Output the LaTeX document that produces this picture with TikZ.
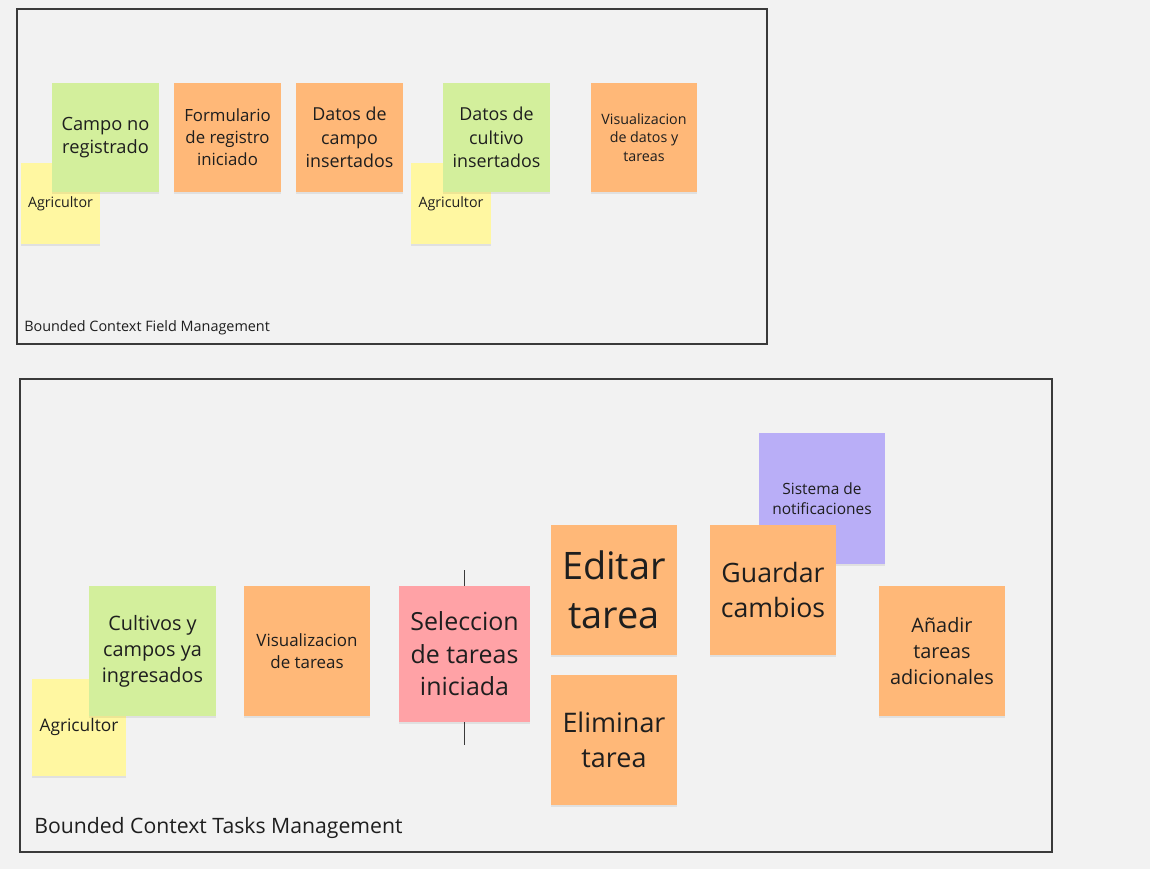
\documentclass[tikz,border=0pt]{standalone}
\usepackage{fontspec}
\setmainfont{Open Sans}
\usetikzlibrary{shadows}
\definecolor{bg}{HTML}{F2F2F2}
\definecolor{frame}{HTML}{3A3A3A}
\definecolor{txt}{HTML}{1E1E1E}
\definecolor{sy}{HTML}{FFF7A1}
\definecolor{sg}{HTML}{D3EF9C}
\definecolor{so}{HTML}{FFB878}
\definecolor{sr}{HTML}{FFA2A6}
\definecolor{sp}{HTML}{B9AEF7}
\newcommand{\fs}[2]{\fontsize{#1pt}{\dimexpr #1pt*#2/100\relax}\selectfont}
\tikzset{
  sticky/.style={rectangle, inner sep=0pt, align=center, text=txt,
    drop shadow={shadow xshift=0.3pt, shadow yshift=-1.5pt, opacity=0.07, fill=black}},
  yel/.style={sticky, fill=sy},
  gre/.style={sticky, fill=sg},
  ora/.style={sticky, fill=so},
  red/.style={sticky, fill=sr},
  pur/.style={sticky, fill=sp},
  ctxframe/.style={draw=frame, line width=0.8pt},
  ctxlabel/.style={anchor=west, inner sep=0pt, text=txt},
  pivot/.style={draw=frame, line width=0.75pt}
}
\begin{document}
\begin{tikzpicture}[x=0.75pt, y=-0.75pt]
\fill[bg] (0,0) rectangle (1150,869);
\useasboundingbox (0,0) rectangle (1150,869);
% frames
\draw[ctxframe] (17,9) rectangle (767,344);
\draw[ctxframe] (20,379) rectangle (1052,852);
\node[ctxlabel, font=\fs{10.8}{136}] (lab1) at (24,328) {Bounded Context Field Management};
\node[ctxlabel, font=\fs{15.9}{136}] (lab2) at (34,828) {Bounded Context Tasks Management};
% top context
\node[yel, minimum width=79*0.75pt, minimum height=81*0.75pt, font=\fs{10.7}{136}] (a1) at (60.5,203.5) {Agricultor};
\node[gre, minimum width=107*0.75pt, minimum height=109*0.75pt, font=\fs{13.7}{130}] (g1) at (105.5,137.5) {Campo no\\registrado};
\node[ora, minimum width=107*0.75pt, minimum height=109*0.75pt, font=\fs{12.6}{132}] (o1) at (227.5,137.5) {Formulario\\de registro\\iniciado};
\node[ora, minimum width=107*0.75pt, minimum height=109*0.75pt, font=\fs{13.4}{132}] (o2) at (349.5,137.5) {Datos de\\campo\\insertados};
\node[yel, minimum width=80*0.75pt, minimum height=81*0.75pt, font=\fs{10.7}{136}] (a2) at (451,203.5) {Agricultor};
\node[gre, minimum width=107*0.75pt, minimum height=109*0.75pt, font=\fs{13.4}{132}] (g2) at (496.5,137.5) {Datos de\\cultivo\\insertados};
\node[ora, minimum width=106*0.75pt, minimum height=109*0.75pt, font=\fs{10.7}{132}] (o3) at (644,137.5) {Visualizacion\\de datos y\\tareas};
% bottom context
\node[yel, minimum width=94*0.75pt, minimum height=97*0.75pt, font=\fs{13}{136}] (a3) at (79,727) {Agricultor};
\node[gre, minimum width=127*0.75pt, minimum height=130*0.75pt, font=\fs{14.9}{130}] (g3) at (152.5,651) {Cultivos y\\campos ya\\ingresados};
\node[ora, minimum width=126*0.75pt, minimum height=130*0.75pt, font=\fs{12.7}{132}] (o4) at (307,651) {Visualizacion\\de tareas};
\coordinate (pt) at (464,570);
\coordinate (pb) at (464,745);
\draw[pivot] (pt) -- (pb);
\node[red, minimum width=131*0.75pt, minimum height=136*0.75pt, font=\fs{18.7}{130}] (r1) at (464.5,654) {Seleccion\\de tareas\\iniciada};
\node[ora, minimum width=126*0.75pt, minimum height=130*0.75pt, font=\fs{28.4}{130}] (o5) at (614,590) {Editar\\tarea};
\node[ora, minimum width=126*0.75pt, minimum height=130*0.75pt, font=\fs{20.2}{130}] (o6) at (614,740) {Eliminar\\tarea};
\node[pur, minimum width=126*0.75pt, minimum height=131*0.75pt, font=\fs{11.6}{130}] (p1) at (822,498.5) {Sistema de\\notificaciones};
\node[ora, minimum width=126*0.75pt, minimum height=130*0.75pt, font=\fs{20}{130}] (o7) at (773,590) {Guardar\\cambios};
\node[ora, minimum width=126*0.75pt, minimum height=130*0.75pt, font=\fs{14.9}{130}] (o8) at (942,651) {Añadir\\tareas\\adicionales};
\end{tikzpicture}
\end{document}
